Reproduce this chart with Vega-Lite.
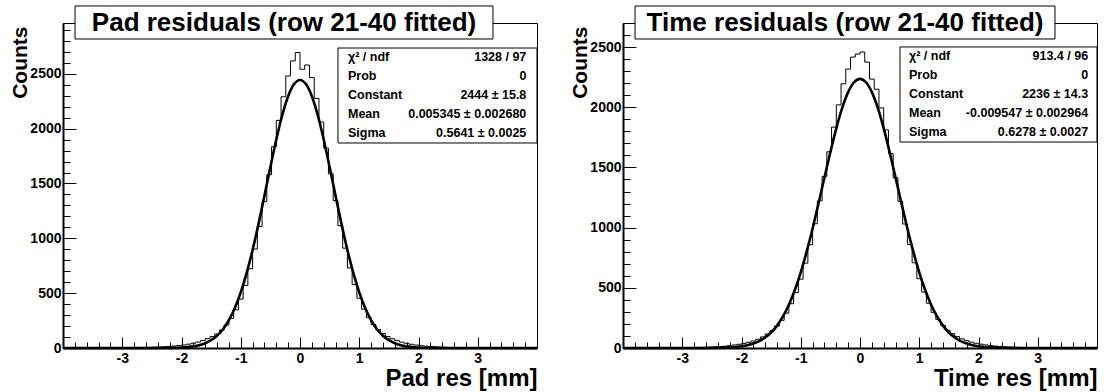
{
  "$schema": "https://vega.github.io/schema/vega-lite/v6.json",
  "background": "white",
  "padding": {"left": 8, "top": 4, "right": 0, "bottom": 0},
  "bounds": "flush",
  "spacing": 86,
  "config": {
    "font": "Liberation Sans",
    "view": {"stroke": "black", "strokeWidth": 1},
    "axis": {
      "grid": false,
      "tickCount": 200,
      "domainColor": "black",
      "domainWidth": 2,
      "tickColor": "black",
      "tickWidth": 1,
      "labelColor": "black",
      "labelFont": "Liberation Sans",
      "labelFontWeight": "bold",
      "labelFontSize": 14,
      "labelOverlap": false,
      "labelFlush": false,
      "labelBound": false,
      "titleColor": "black",
      "titleFont": "Liberation Sans",
      "titleFontWeight": "bold",
      "titleAnchor": "end"
    }
  },
  "datasets": {
    "hist_pad": [
      {"x": -3.96, "n": 0}, {"x": -3.88, "n": 1}, {"x": -3.8, "n": 0}, {"x": -3.72, "n": 1}, {"x": -3.64, "n": 1},
      {"x": -3.56, "n": 0}, {"x": -3.48, "n": 1}, {"x": -3.4, "n": 1}, {"x": -3.32, "n": 2}, {"x": -3.24, "n": 1},
      {"x": -3.16, "n": 2}, {"x": -3.08, "n": 2}, {"x": -3.0, "n": 2}, {"x": -2.92, "n": 3}, {"x": -2.84, "n": 3},
      {"x": -2.76, "n": 4}, {"x": -2.68, "n": 4}, {"x": -2.6, "n": 5}, {"x": -2.52, "n": 6}, {"x": -2.44, "n": 8},
      {"x": -2.36, "n": 9}, {"x": -2.28, "n": 12}, {"x": -2.2, "n": 14}, {"x": -2.12, "n": 18}, {"x": -2.04, "n": 22},
      {"x": -1.96, "n": 28}, {"x": -1.88, "n": 35}, {"x": -1.8, "n": 44}, {"x": -1.72, "n": 54}, {"x": -1.64, "n": 68},
      {"x": -1.56, "n": 85}, {"x": -1.48, "n": 104}, {"x": -1.4, "n": 128}, {"x": -1.32, "n": 164}, {"x": -1.24, "n": 210},
      {"x": -1.16, "n": 270}, {"x": -1.08, "n": 348}, {"x": -1.0, "n": 446}, {"x": -0.92, "n": 570}, {"x": -0.84, "n": 722},
      {"x": -0.76, "n": 902}, {"x": -0.68, "n": 1108}, {"x": -0.6, "n": 1335}, {"x": -0.52, "n": 1580}, {"x": -0.44, "n": 1835},
      {"x": -0.36, "n": 2075}, {"x": -0.28, "n": 2290}, {"x": -0.2, "n": 2480}, {"x": -0.12, "n": 2617}, {"x": -0.04, "n": 2694},
      {"x": 0.04, "n": 2541}, {"x": 0.12, "n": 2580}, {"x": 0.2, "n": 2465}, {"x": 0.28, "n": 2276}, {"x": 0.36, "n": 2060},
      {"x": 0.44, "n": 1822}, {"x": 0.52, "n": 1588}, {"x": 0.6, "n": 1344}, {"x": 0.68, "n": 1115}, {"x": 0.76, "n": 910},
      {"x": 0.84, "n": 730}, {"x": 0.92, "n": 578}, {"x": 1.0, "n": 454}, {"x": 1.08, "n": 354}, {"x": 1.16, "n": 276},
      {"x": 1.24, "n": 214}, {"x": 1.32, "n": 168}, {"x": 1.4, "n": 132}, {"x": 1.48, "n": 104}, {"x": 1.56, "n": 84},
      {"x": 1.64, "n": 67}, {"x": 1.72, "n": 53}, {"x": 1.8, "n": 43}, {"x": 1.88, "n": 34}, {"x": 1.96, "n": 27},
      {"x": 2.04, "n": 21}, {"x": 2.12, "n": 17}, {"x": 2.2, "n": 13}, {"x": 2.28, "n": 11}, {"x": 2.36, "n": 8},
      {"x": 2.44, "n": 7}, {"x": 2.52, "n": 5}, {"x": 2.6, "n": 4}, {"x": 2.68, "n": 4}, {"x": 2.76, "n": 3},
      {"x": 2.84, "n": 2}, {"x": 2.92, "n": 2}, {"x": 3.0, "n": 2}, {"x": 3.08, "n": 1}, {"x": 3.16, "n": 1},
      {"x": 3.24, "n": 1}, {"x": 3.32, "n": 1}, {"x": 3.4, "n": 0}, {"x": 3.48, "n": 1}, {"x": 3.56, "n": 0},
      {"x": 3.64, "n": 1}, {"x": 3.72, "n": 0}, {"x": 3.8, "n": 0}, {"x": 3.88, "n": 1}, {"x": 3.96, "n": 0}
    ],
    "fit_pad": [
      {"x": -4.0, "f": 0}, {"x": -3.0, "f": 0}, {"x": -2.6, "f": 0.1}, {"x": -2.4, "f": 0.3}, {"x": -2.2, "f": 1.2},
      {"x": -2.0, "f": 4.6}, {"x": -1.9, "f": 8.4}, {"x": -1.8, "f": 15.0}, {"x": -1.7, "f": 26.0}, {"x": -1.6, "f": 43.8},
      {"x": -1.5, "f": 71.2}, {"x": -1.4, "f": 112.3}, {"x": -1.3, "f": 171.7}, {"x": -1.2, "f": 254.4}, {"x": -1.1, "f": 365.1},
      {"x": -1.0, "f": 507.8}, {"x": -0.9, "f": 684.5}, {"x": -0.8, "f": 894.0}, {"x": -0.7, "f": 1131.6}, {"x": -0.6, "f": 1388.1},
      {"x": -0.5, "f": 1650.1}, {"x": -0.4, "f": 1900.6}, {"x": -0.3, "f": 2121.7}, {"x": -0.2, "f": 2295.1}, {"x": -0.1, "f": 2405.9},
      {"x": 0.0, "f": 2444.0}, {"x": 0.1, "f": 2405.9}, {"x": 0.2, "f": 2295.1}, {"x": 0.3, "f": 2121.7}, {"x": 0.4, "f": 1900.6},
      {"x": 0.5, "f": 1650.1}, {"x": 0.6, "f": 1388.1}, {"x": 0.7, "f": 1131.6}, {"x": 0.8, "f": 894.0}, {"x": 0.9, "f": 684.5},
      {"x": 1.0, "f": 507.8}, {"x": 1.1, "f": 365.1}, {"x": 1.2, "f": 254.4}, {"x": 1.3, "f": 171.7}, {"x": 1.4, "f": 112.3},
      {"x": 1.5, "f": 71.2}, {"x": 1.6, "f": 43.8}, {"x": 1.7, "f": 26.0}, {"x": 1.8, "f": 15.0}, {"x": 1.9, "f": 8.4},
      {"x": 2.0, "f": 4.6}, {"x": 2.2, "f": 1.2}, {"x": 2.4, "f": 0.3}, {"x": 2.6, "f": 0.1}, {"x": 3.0, "f": 0}, {"x": 4.0, "f": 0}
    ],
    "hist_time": [
      {"x": -3.96, "n": 0}, {"x": -3.88, "n": 0}, {"x": -3.8, "n": 1}, {"x": -3.72, "n": 0}, {"x": -3.64, "n": 1},
      {"x": -3.56, "n": 1}, {"x": -3.48, "n": 1}, {"x": -3.4, "n": 1}, {"x": -3.32, "n": 1}, {"x": -3.24, "n": 1},
      {"x": -3.16, "n": 1}, {"x": -3.08, "n": 1}, {"x": -3.0, "n": 2}, {"x": -2.92, "n": 2}, {"x": -2.84, "n": 3},
      {"x": -2.76, "n": 4}, {"x": -2.68, "n": 5}, {"x": -2.6, "n": 6}, {"x": -2.52, "n": 8}, {"x": -2.44, "n": 10},
      {"x": -2.36, "n": 12}, {"x": -2.28, "n": 15}, {"x": -2.2, "n": 19}, {"x": -2.12, "n": 25}, {"x": -2.04, "n": 31},
      {"x": -1.96, "n": 38}, {"x": -1.88, "n": 47}, {"x": -1.8, "n": 58}, {"x": -1.72, "n": 73}, {"x": -1.64, "n": 92},
      {"x": -1.56, "n": 116}, {"x": -1.48, "n": 144}, {"x": -1.4, "n": 182}, {"x": -1.32, "n": 230}, {"x": -1.24, "n": 290},
      {"x": -1.16, "n": 368}, {"x": -1.08, "n": 460}, {"x": -1.0, "n": 572}, {"x": -0.92, "n": 705}, {"x": -0.84, "n": 858},
      {"x": -0.76, "n": 1032}, {"x": -0.68, "n": 1222}, {"x": -0.6, "n": 1425}, {"x": -0.52, "n": 1630}, {"x": -0.44, "n": 1835},
      {"x": -0.36, "n": 2020}, {"x": -0.28, "n": 2195}, {"x": -0.2, "n": 2317}, {"x": -0.12, "n": 2417}, {"x": -0.04, "n": 2442},
      {"x": 0.04, "n": 2459}, {"x": 0.12, "n": 2375}, {"x": 0.2, "n": 2234}, {"x": 0.28, "n": 2150}, {"x": 0.36, "n": 1995},
      {"x": 0.44, "n": 1812}, {"x": 0.52, "n": 1615}, {"x": 0.6, "n": 1414}, {"x": 0.68, "n": 1218}, {"x": 0.76, "n": 1030},
      {"x": 0.84, "n": 860}, {"x": 0.92, "n": 708}, {"x": 1.0, "n": 576}, {"x": 1.08, "n": 464}, {"x": 1.16, "n": 372},
      {"x": 1.24, "n": 296}, {"x": 1.32, "n": 236}, {"x": 1.4, "n": 187}, {"x": 1.48, "n": 148}, {"x": 1.56, "n": 119},
      {"x": 1.64, "n": 95}, {"x": 1.72, "n": 76}, {"x": 1.8, "n": 61}, {"x": 1.88, "n": 49}, {"x": 1.96, "n": 39},
      {"x": 2.04, "n": 32}, {"x": 2.12, "n": 26}, {"x": 2.2, "n": 20}, {"x": 2.28, "n": 16}, {"x": 2.36, "n": 13},
      {"x": 2.44, "n": 10}, {"x": 2.52, "n": 8}, {"x": 2.6, "n": 7}, {"x": 2.68, "n": 5}, {"x": 2.76, "n": 4},
      {"x": 2.84, "n": 3}, {"x": 2.92, "n": 2}, {"x": 3.0, "n": 2}, {"x": 3.08, "n": 1}, {"x": 3.16, "n": 1},
      {"x": 3.24, "n": 1}, {"x": 3.32, "n": 1}, {"x": 3.4, "n": 0}, {"x": 3.48, "n": 1}, {"x": 3.56, "n": 0},
      {"x": 3.64, "n": 0}, {"x": 3.72, "n": 1}, {"x": 3.8, "n": 0}, {"x": 3.88, "n": 0}, {"x": 3.96, "n": 0}
    ],
    "fit_time": [
      {"x": -4.0, "f": 0}, {"x": -3.0, "f": 0}, {"x": -2.8, "f": 0.1}, {"x": -2.6, "f": 0.4}, {"x": -2.4, "f": 1.5},
      {"x": -2.2, "f": 4.8}, {"x": -2.1, "f": 8.3}, {"x": -2.0, "f": 14.0}, {"x": -1.9, "f": 22.9}, {"x": -1.8, "f": 36.7},
      {"x": -1.7, "f": 57.2}, {"x": -1.6, "f": 86.9}, {"x": -1.5, "f": 128.8}, {"x": -1.4, "f": 186.0}, {"x": -1.3, "f": 262.0},
      {"x": -1.2, "f": 359.8}, {"x": -1.1, "f": 481.7}, {"x": -1.0, "f": 628.8}, {"x": -0.9, "f": 800.2}, {"x": -0.8, "f": 992.8},
      {"x": -0.7, "f": 1200.9}, {"x": -0.6, "f": 1416.2}, {"x": -0.5, "f": 1628.3}, {"x": -0.4, "f": 1825.3}, {"x": -0.3, "f": 1994.7},
      {"x": -0.2, "f": 2125.4}, {"x": -0.1, "f": 2207.8}, {"x": 0.0, "f": 2236.0}, {"x": 0.1, "f": 2207.8}, {"x": 0.2, "f": 2125.4},
      {"x": 0.3, "f": 1994.7}, {"x": 0.4, "f": 1825.3}, {"x": 0.5, "f": 1628.3}, {"x": 0.6, "f": 1416.2}, {"x": 0.7, "f": 1200.9},
      {"x": 0.8, "f": 992.8}, {"x": 0.9, "f": 800.2}, {"x": 1.0, "f": 628.8}, {"x": 1.1, "f": 481.7}, {"x": 1.2, "f": 359.8},
      {"x": 1.3, "f": 262.0}, {"x": 1.4, "f": 186.0}, {"x": 1.5, "f": 128.8}, {"x": 1.6, "f": 86.9}, {"x": 1.7, "f": 57.2},
      {"x": 1.8, "f": 36.7}, {"x": 1.9, "f": 22.9}, {"x": 2.0, "f": 14.0}, {"x": 2.1, "f": 8.3}, {"x": 2.2, "f": 4.8},
      {"x": 2.4, "f": 1.5}, {"x": 2.6, "f": 0.4}, {"x": 2.8, "f": 0.1}, {"x": 3.0, "f": 0}, {"x": 4.0, "f": 0}
    ]
  },
  "hconcat": [
    {
      "width": 474,
      "height": 325,
      "layer": [
        {
          "data": {"name": "hist_pad"},
          "mark": {"type": "line", "interpolate": "step", "color": "black", "strokeWidth": 1},
          "encoding": {
            "x": {"field": "x", "type": "quantitative", "scale": {"domain": [-4, 4], "nice": false, "zero": false},
              "axis": {"title": "Pad res [mm]", "titleFontSize": 24, "titlePadding": -4, "labelOverlap": false, "tickCount": 200,
                "values": [-3.8,-3.6,-3.4,-3.2,-3,-2.8,-2.6,-2.4,-2.2,-2,-1.8,-1.6,-1.4,-1.2,-1,-0.8,-0.6,-0.4,-0.2,0,0.2,0.4,0.6,0.8,1,1.2,1.4,1.6,1.8,2,2.2,2.4,2.6,2.8,3,3.2,3.4,3.6,3.8],
                "labelExpr": "abs(datum.value - round(datum.value)) < 0.001 ? '' + round(datum.value) : ''",
                "tickSize": {"condition": {"test": "abs(datum.value - round(datum.value)) < 0.001", "value": -11}, "value": -6},
                "labelPadding": 14}},
            "y": {"field": "n", "type": "quantitative", "scale": {"domain": [0, 2963], "nice": false},
              "axis": {"title": "Counts", "titleFontSize": 21, "titlePadding": 3, "titleY": 3, "labelOverlap": false, "tickCount": 200,
                "values": [0,100,200,300,400,500,600,700,800,900,1000,1100,1200,1300,1400,1500,1600,1700,1800,1900,2000,2100,2200,2300,2400,2500,2600,2700,2800,2900],
                "labelExpr": "datum.value % 500 === 0 ? '' + datum.value : ''",
                "tickSize": {"condition": {"test": "datum.value % 500 === 0", "value": -13}, "value": -7},
                "labelPadding": 15, "minExtent": 30, "maxExtent": 30}}
          }
        },
        {
          "data": {"name": "fit_pad"},
          "mark": {"type": "line", "interpolate": "monotone", "color": "black", "strokeWidth": 2.6},
          "encoding": {
            "x": {"field": "x", "type": "quantitative", "scale": {"domain": [-4, 4], "nice": false, "zero": false}},
            "y": {"field": "f", "type": "quantitative", "scale": {"domain": [0, 2963], "nice": false}}
          }
        },
        {
          "data": {"values": [{}]},
          "mark": {"type": "rect", "fill": "white", "stroke": "black", "strokeWidth": 1},
          "encoding": {
            "x": {"datum": -3.797, "type": "quantitative"}, "x2": {"datum": 3.257},
            "y": {"datum": 3118, "type": "quantitative"}, "y2": {"datum": 2817}
          }
        },
        {
          "data": {"values": [{}]},
          "mark": {"type": "text", "text": "Pad residuals (row 21-40 fitted)", "font": "Liberation Sans", "fontWeight": "bold", "fontSize": 26, "align": "center", "baseline": "middle", "color": "black"},
          "encoding": {
            "x": {"datum": -0.27, "type": "quantitative"},
            "y": {"datum": 2963, "type": "quantitative"}
          }
        },
        {
          "data": {"values": [{}]},
          "mark": {"type": "rect", "fill": "white", "stroke": "black", "strokeWidth": 1},
          "encoding": {
            "x": {"datum": 0.641, "type": "quantitative"}, "x2": {"datum": 4},
            "y": {"datum": 2735, "type": "quantitative"}, "y2": {"datum": 1869}
          }
        },
        {
          "data": {"values": [{}]},
          "mark": {"type": "text", "text": ["χ² / ndf", "Prob", "Constant", "Mean", "Sigma"], "font": "Liberation Sans", "fontWeight": "bold", "fontSize": 12.5, "lineHeight": 19, "align": "left", "baseline": "middle", "color": "black"},
          "encoding": {
            "x": {"datum": 0.81, "type": "quantitative"},
            "y": {"datum": 2653, "type": "quantitative"}
          }
        },
        {
          "data": {"values": [{}]},
          "mark": {"type": "text", "text": ["1328 / 97", "0", "2444 ± 15.8", "0.005345 ± 0.002680", "0.5641 ± 0.0025"], "font": "Liberation Sans", "fontWeight": "bold", "fontSize": 12.5, "lineHeight": 19, "align": "right", "baseline": "middle", "color": "black"},
          "encoding": {
            "x": {"datum": 3.82, "type": "quantitative"},
            "y": {"datum": 2653, "type": "quantitative"}
          }
        }
      ]
    },
    {
      "width": 474,
      "height": 325,
      "layer": [
        {
          "data": {"name": "hist_time"},
          "mark": {"type": "line", "interpolate": "step", "color": "black", "strokeWidth": 1},
          "encoding": {
            "x": {"field": "x", "type": "quantitative", "scale": {"domain": [-4, 4], "nice": false, "zero": false},
              "axis": {"title": "Time res [mm]", "titleFontSize": 24, "titlePadding": -4, "labelOverlap": false, "tickCount": 200,
                "values": [-3.8,-3.6,-3.4,-3.2,-3,-2.8,-2.6,-2.4,-2.2,-2,-1.8,-1.6,-1.4,-1.2,-1,-0.8,-0.6,-0.4,-0.2,0,0.2,0.4,0.6,0.8,1,1.2,1.4,1.6,1.8,2,2.2,2.4,2.6,2.8,3,3.2,3.4,3.6,3.8],
                "labelExpr": "abs(datum.value - round(datum.value)) < 0.001 ? '' + round(datum.value) : ''",
                "tickSize": {"condition": {"test": "abs(datum.value - round(datum.value)) < 0.001", "value": -11}, "value": -6},
                "labelPadding": 14}},
            "y": {"field": "n", "type": "quantitative", "scale": {"domain": [0, 2700], "nice": false},
              "axis": {"title": "Counts", "titleFontSize": 21, "titlePadding": 3, "titleY": 3, "labelOverlap": false, "tickCount": 200,
                "values": [0,100,200,300,400,500,600,700,800,900,1000,1100,1200,1300,1400,1500,1600,1700,1800,1900,2000,2100,2200,2300,2400,2500,2600],
                "labelExpr": "datum.value % 500 === 0 ? '' + datum.value : ''",
                "tickSize": {"condition": {"test": "datum.value % 500 === 0", "value": -13}, "value": -7},
                "labelPadding": 15, "minExtent": 30, "maxExtent": 30}}
          }
        },
        {
          "data": {"name": "fit_time"},
          "mark": {"type": "line", "interpolate": "monotone", "color": "black", "strokeWidth": 2.6},
          "encoding": {
            "x": {"field": "x", "type": "quantitative", "scale": {"domain": [-4, 4], "nice": false, "zero": false}},
            "y": {"field": "f", "type": "quantitative", "scale": {"domain": [0, 2700], "nice": false}}
          }
        },
        {
          "data": {"values": [{}]},
          "mark": {"type": "rect", "fill": "white", "stroke": "black", "strokeWidth": 1},
          "encoding": {
            "x": {"datum": -3.797, "type": "quantitative"}, "x2": {"datum": 3.291},
            "y": {"datum": 2841, "type": "quantitative"}, "y2": {"datum": 2567}
          }
        },
        {
          "data": {"values": [{}]},
          "mark": {"type": "text", "text": "Time residuals (row 21-40 fitted)", "font": "Liberation Sans", "fontWeight": "bold", "fontSize": 26, "align": "center", "baseline": "middle", "color": "black"},
          "encoding": {
            "x": {"datum": -0.253, "type": "quantitative"},
            "y": {"datum": 2700, "type": "quantitative"}
          }
        },
        {
          "data": {"values": [{}]},
          "mark": {"type": "rect", "fill": "white", "stroke": "black", "strokeWidth": 1},
          "encoding": {
            "x": {"datum": 0.675, "type": "quantitative"}, "x2": {"datum": 4},
            "y": {"datum": 2501, "type": "quantitative"}, "y2": {"datum": 1711}
          }
        },
        {
          "data": {"values": [{}]},
          "mark": {"type": "text", "text": ["χ² / ndf", "Prob", "Constant", "Mean", "Sigma"], "font": "Liberation Sans", "fontWeight": "bold", "fontSize": 12.5, "lineHeight": 19, "align": "left", "baseline": "middle", "color": "black"},
          "encoding": {
            "x": {"datum": 0.827, "type": "quantitative"},
            "y": {"datum": 2426, "type": "quantitative"}
          }
        },
        {
          "data": {"values": [{}]},
          "mark": {"type": "text", "text": ["913.4 / 96", "0", "2236 ± 14.3", "-0.009547 ± 0.002964", "0.6278 ± 0.0027"], "font": "Liberation Sans", "fontWeight": "bold", "fontSize": 12.5, "lineHeight": 19, "align": "right", "baseline": "middle", "color": "black"},
          "encoding": {
            "x": {"datum": 3.85, "type": "quantitative"},
            "y": {"datum": 2426, "type": "quantitative"}
          }
        }
      ]
    }
  ]
}
